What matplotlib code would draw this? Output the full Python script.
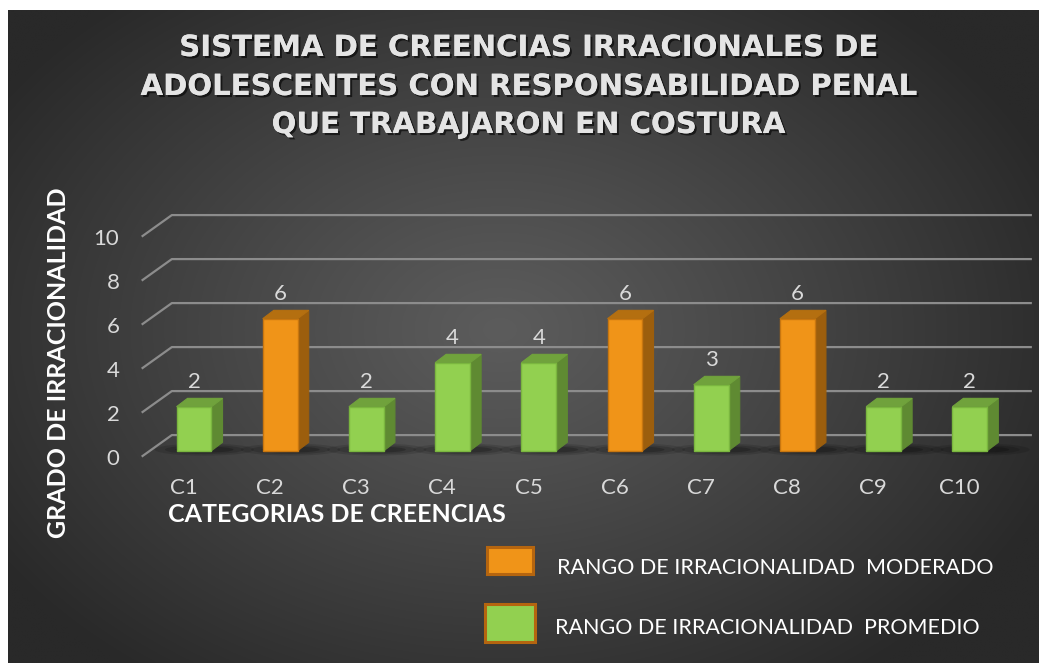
import numpy as np
import matplotlib
matplotlib.use("Agg")
import matplotlib.pyplot as plt
from matplotlib.patches import Polygon, Rectangle, Ellipse
import matplotlib.patheffects as pe

categories = ["C1", "C2", "C3", "C4", "C5", "C6", "C7", "C8", "C9", "C10"]
values = [2, 6, 2, 4, 4, 6, 3, 6, 2, 2]
rango = ["PROMEDIO", "MODERADO", "PROMEDIO", "PROMEDIO", "PROMEDIO",
         "MODERADO", "PROMEDIO", "MODERADO", "PROMEDIO", "PROMEDIO"]
yticks = [0, 2, 4, 6, 8, 10]
legend_labels = ["RANGO DE IRRACIONALIDAD  MODERADO", "RANGO DE IRRACIONALIDAD  PROMEDIO"]

colors = {
    "MODERADO": {"front": "#f09418", "side": "#9c5e0d", "top": "#b46f10", "edge": "#c8760f"},
    "PROMEDIO": {"front": "#92d050", "side": "#5f8a32", "top": "#70a23c", "edge": "#7ab63f"},
}

W, H = 1039, 663
fig = plt.figure(figsize=(W / 100, H / 100), dpi=100)
fig.patch.set_facecolor("white")

# background panel with a radial glow
bg = fig.add_axes([8 / W, 0, 1 - 8 / W, 653 / H])
gx, gy = np.meshgrid(np.linspace(8, W, 400), np.linspace(10, H, 300))
r = np.sqrt(((gx - 500) / 600) ** 2 + ((gy - 330) / 430) ** 2)
shade = 0x5c - (0x5c - 0x29) * np.clip(r, 0, 1) ** 1.1
bg.imshow(np.dstack([shade / 255] * 3), aspect="auto", interpolation="bilinear")
bg.axis("off")

# main axes: 86.2 px per category, 22 px per unit, bar base at y=450.7 px
L, R, T, B = 125, 1039, 200, 470
ax = fig.add_axes([L / W, (H - B) / H, (R - L) / W, (B - T) / H])
ax.set_facecolor("none")
ax.set_xlim((L - 194) / 86.2, (R - 194) / 86.2)
ax.set_ylim((450.7 - B) / 22, (450.7 - T) / 22)
for s in ax.spines.values():
    s.set_visible(False)

font = ["Lato", "DejaVu Sans"]
wall_dx, wall_dy = 0.35, 0.98   # depth of floor/back wall
front_off = -0.27
bw, dx, dy = 0.406, 0.128, 0.38

# gridlines on the back wall, with slanted side wall
for v in yticks:
    ax.plot([-0.607, -0.607 + wall_dx, 9.72],
            [v + front_off, v + front_off + wall_dy, v + front_off + wall_dy],
            color="#8c8c8c", lw=1.6, zorder=1, solid_capstyle="butt")

x = np.arange(len(categories))
front_cols = [colors[k]["front"] for k in rango]
edge_cols = [colors[k]["edge"] for k in rango]

# shadows under the bars
for xi in x:
    for k, a in zip([1.0, 0.75, 0.5], [0.12, 0.15, 0.2]):
        ax.add_patch(Ellipse((xi + 0.12, 0.05), 0.95 * k + 0.2, 0.55 * k,
                             color="black", alpha=a, lw=0, zorder=2))

ax.bar(x, values, width=bw, color=front_cols, edgecolor=edge_cols, lw=1, zorder=4)
for xi, v, k in zip(x, values, rango):
    c = colors[k]
    xr = xi + bw / 2
    xl = xi - bw / 2
    ax.add_patch(Polygon([(xr, 0), (xr + dx, dy), (xr + dx, v + dy), (xr, v)],
                         closed=True, fc=c["side"], ec=c["side"], lw=0.8, zorder=3))
    ax.add_patch(Polygon([(xl, v), (xr, v), (xr + dx, v + dy), (xl + dx, v + dy)],
                         closed=True, fc=c["top"], ec=c["top"], lw=0.8, zorder=3))
    ax.text(xi, v + 0.85, str(v), ha="center", va="baseline", color="#d9d9d9",
            fontsize=16, family=font, zorder=5)

ax.set_yticks([v + front_off for v in yticks])
ax.set_yticklabels([str(v) for v in yticks])
ax.set_xticks(x - 0.12)
ax.set_xticklabels(categories)
ax.tick_params(length=0, colors="#d9d9d9", labelsize=16)
ax.tick_params(axis="y", pad=4)
ax.tick_params(axis="x", pad=6)
for lab in ax.get_xticklabels() + ax.get_yticklabels():
    lab.set_family(font)

# titles
shadow = [pe.withSimplePatchShadow(offset=(1.5, -1.5), shadow_rgbFace="black", alpha=0.6)]
title_lines = ["SISTEMA DE CREENCIAS IRRACIONALES DE",
               "ADOLESCENTES CON RESPONSABILIDAD PENAL",
               "QUE TRABAJARON EN COSTURA"]
for line, yc in zip(title_lines, [48, 87, 125]):
    t = fig.text(528 / W, (H - yc) / H, line, ha="center", va="center", color="#e4e4e4",
                 fontsize=21, fontweight="bold", family=["DejaVu Sans"])
    t.set_path_effects(shadow + [pe.Normal()])

fig.text(59 / W, (H - 363) / H, "GRADO DE IRRACIONALIDAD", rotation=90, ha="center",
         va="center", color="white", fontsize=18, fontweight="bold", family=font)
fig.text(168 / W, (H - 515) / H, "CATEGORIAS DE CREENCIAS", ha="left", va="center",
         color="white", fontsize=18, fontweight="bold", family=font)

# legend drawn as boxes + text
leg_boxes = [(487, 547, 46, 27), (485, 604, 50, 38)]
leg_text = [(557, 568), (555, 628)]
for (bx, by, bwid, bht), (tx, ty), lab, k in zip(leg_boxes, leg_text, legend_labels,
                                                 ["MODERADO", "PROMEDIO"]):
    fig.add_artist(Rectangle((bx / W, (H - by - bht) / H), bwid / W, bht / H,
                             transform=fig.transFigure, fc=colors[k]["front"],
                             ec="#b5650f", lw=2.2))
    fig.text(tx / W, (H - ty) / H, lab, ha="left", va="center", color="white",
             fontsize=15.5, family=font)

fig.savefig("out.png", dpi=100, facecolor=fig.get_facecolor())
